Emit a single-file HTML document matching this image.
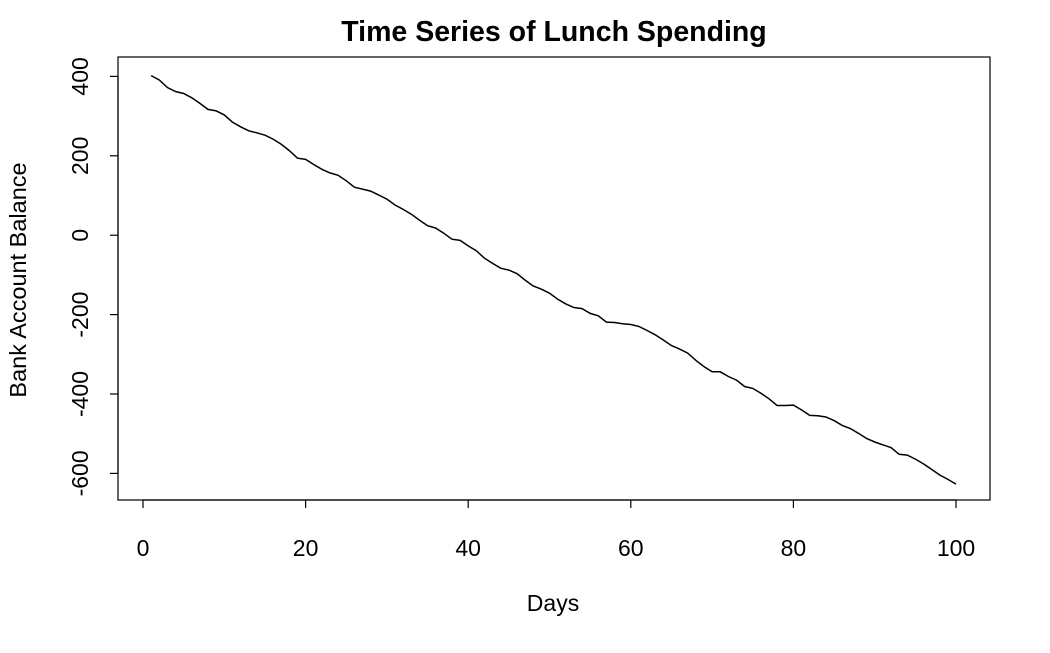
<!DOCTYPE html>
<html><head><meta charset="utf-8"><style>
html,body{margin:0;padding:0;background:#fff}
svg text{font-family:"Liberation Sans",Arial,sans-serif;fill:#000}
</style></head><body>
<svg id="chart" width="1050" height="648" xmlns="http://www.w3.org/2000/svg"></svg>
<script>
const days=[];for(let i=1;i<=100;i++)days.push(i);
const balance=[402,391,372,362,357,346,332,317,313,303,285,273,263,258,252,242,229,213,194,191,178,166,157,151,137,121,116,111,101,91,76,65,53,38,24,18,5,-10,-13,-27,-39,-58,-71,-83,-88,-97,-113,-128,-136,-146,-161,-173,-182,-185,-197,-203,-219,-220,-223,-225,-230,-240,-251,-264,-278,-287,-297,-315,-331,-344,-344,-356,-365,-381,-386,-398,-412,-429,-429,-428,-440,-454,-455,-458,-467,-479,-487,-499,-512,-521,-528,-535,-552,-554,-564,-576,-590,-604,-615,-627];
const xTicks=[0,20,40,60,80,100];
const yTicks=[400,200,0,-200,-400,-600];
const NS="http://www.w3.org/2000/svg";
const svg=document.getElementById('chart');
const X=d=>143+d*8.13;
const Y=v=>235.2-v*0.397;
function mk(tag,attrs,text){const e=document.createElementNS(NS,tag);for(const k in attrs)e.setAttribute(k,attrs[k]);if(text!==undefined)e.textContent=text;svg.appendChild(e);return e;}
let e;
e=mk('rect',{x:118,y:57,width:872,height:443,fill:'none',stroke:'#000','stroke-width':1.2});


e=mk('text',{x:554,y:41,'text-anchor':'middle','font-size':'28.5','font-weight':'bold'},'Time Series of Lunch Spending');


e=mk('text',{x:553,y:611,'text-anchor':'middle','font-size':'23'},'Days');


e=mk('text',{x:0,y:0,'text-anchor':'middle','font-size':'23.5',transform:'translate(26,280) rotate(-90)'},'Bank Account Balance');


e=mk('line',{x1:X(0),x2:X(100),y1:500,y2:500,stroke:'#000','stroke-width':1.2});


xTicks.forEach(t=>{
  e=mk('line',{x1:X(t),x2:X(t),y1:500,y2:508,stroke:'#000','stroke-width':1.2});
  
  
  e=mk('text',{x:X(t),y:556,'text-anchor':'middle','font-size':'23'},String(t));
  
  
});
e=mk('line',{x1:118,x2:118,y1:Y(400),y2:Y(-600),stroke:'#000','stroke-width':1.2});


yTicks.forEach(t=>{
  e=mk('line',{x1:110,x2:118,y1:Y(t),y2:Y(t),stroke:'#000','stroke-width':1.2});
  
  
  e=mk('text',{x:0,y:0,'text-anchor':'middle','font-size':'23',transform:`translate(88,${Y(t)}) rotate(-90)`},String(t));
  
  
});
const pts=days.map((d,i)=>X(d).toFixed(1)+','+Y(balance[i]).toFixed(1)).join(' ');
e=mk('polyline',{points:pts,fill:'none',stroke:'#000','stroke-width':1.5});


</script>
</body></html>
